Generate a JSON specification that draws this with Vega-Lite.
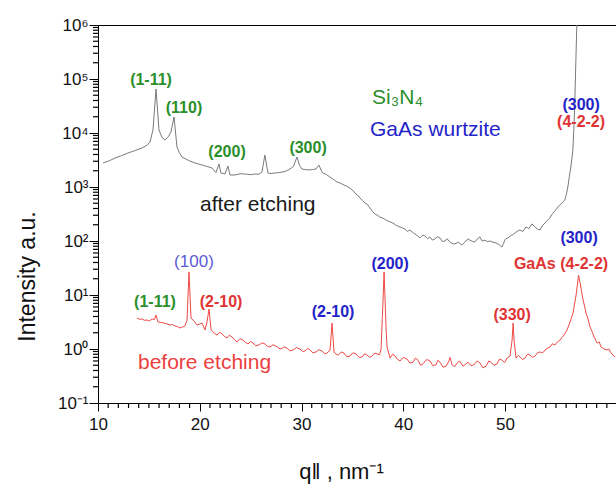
{
  "$schema": "https://vega.github.io/schema/vega-lite/v6.json",
  "width": 518,
  "height": 378,
  "autosize": "none",
  "padding": {"left": 98, "top": 25, "right": 0, "bottom": 86},
  "background": "white",
  "config": {
    "font": "Liberation Sans",
    "view": {"stroke": "black", "strokeWidth": 1}
  },
  "datasets": {
    "curves": [
      {"s":"after","q":10.49,"I":2780},{"s":"after","q":11.1,"I":3050},{"s":"after","q":11.67,"I":3440},{"s":"after","q":12.3,"I":3800},{"s":"after","q":12.95,"I":4260},{"s":"after","q":13.6,"I":4700},{"s":"after","q":14.32,"I":5280},{"s":"after","q":14.8,"I":5900},{"s":"after","q":15.11,"I":6810},{"s":"after","q":15.4,"I":11400},{"s":"after","q":15.7,"I":65300},{"s":"after","q":15.99,"I":11400},{"s":"after","q":16.3,"I":8200},{"s":"after","q":16.58,"I":7420},{"s":"after","q":16.9,"I":8500},{"s":"after","q":17.17,"I":10400},{"s":"after","q":17.47,"I":19800},{"s":"after","q":17.76,"I":5500},{"s":"after","q":18.0,"I":4300},{"s":"after","q":18.25,"I":3590},{"s":"after","q":18.9,"I":3100},{"s":"after","q":19.53,"I":2780},{"s":"after","q":20.4,"I":2500},{"s":"after","q":21.2,"I":2250},{"s":"after","q":21.59,"I":1850},{"s":"after","q":21.89,"I":2670},{"s":"after","q":22.08,"I":1815},{"s":"after","q":22.48,"I":1740},{"s":"after","q":22.77,"I":2450},{"s":"after","q":22.97,"I":1670},{"s":"after","q":23.46,"I":1670},{"s":"after","q":24.0,"I":1760},{"s":"after","q":24.44,"I":1740},{"s":"after","q":25.0,"I":1690},{"s":"after","q":25.42,"I":1740},{"s":"after","q":25.8,"I":1720},{"s":"after","q":26.11,"I":1900},{"s":"after","q":26.4,"I":3910},{"s":"after","q":26.7,"I":1815},{"s":"after","q":27.0,"I":1780},{"s":"after","q":27.39,"I":1815},{"s":"after","q":27.8,"I":1850},{"s":"after","q":28.17,"I":1900},{"s":"after","q":28.5,"I":1980},{"s":"after","q":28.86,"I":2150},{"s":"after","q":29.2,"I":2400},{"s":"after","q":29.55,"I":3590},{"s":"after","q":29.8,"I":2500},{"s":"after","q":30.04,"I":2150},{"s":"after","q":30.4,"I":2100},{"s":"after","q":30.83,"I":2070},{"s":"after","q":31.1,"I":2110},{"s":"after","q":31.41,"I":2150},{"s":"after","q":31.71,"I":2550},{"s":"after","q":32.0,"I":1900},{"s":"after","q":32.1,"I":1815},{"s":"after","q":32.45,"I":1700},{"s":"after","q":32.79,"I":1530},{"s":"after","q":33.1,"I":1400},{"s":"after","q":33.48,"I":1240},{"s":"after","q":33.8,"I":1180},{"s":"after","q":34.17,"I":1090},{"s":"after","q":34.45,"I":1030},{"s":"after","q":34.75,"I":957},{"s":"after","q":35.0,"I":880},{"s":"after","q":35.25,"I":774},{"s":"after","q":35.5,"I":710},{"s":"after","q":35.74,"I":626},{"s":"after","q":36.0,"I":560},{"s":"after","q":36.23,"I":506},{"s":"after","q":36.5,"I":470},{"s":"after","q":36.72,"I":409},{"s":"after","q":37.0,"I":350},{"s":"after","q":37.21,"I":316},{"s":"after","q":37.45,"I":300},{"s":"after","q":37.7,"I":278},{"s":"after","q":38.0,"I":265},{"s":"after","q":38.29,"I":245},{"s":"after","q":38.6,"I":230},{"s":"after","q":38.98,"I":215},{"s":"after","q":39.3,"I":195},{"s":"after","q":39.67,"I":182},{"s":"after","q":39.9,"I":175},{"s":"after","q":40.16,"I":167},{"s":"after","q":40.4,"I":150},{"s":"after","q":40.65,"I":160},{"s":"after","q":40.9,"I":145},{"s":"after","q":41.14,"I":135},{"s":"after","q":41.4,"I":125},{"s":"after","q":41.63,"I":114},{"s":"after","q":41.9,"I":128},{"s":"after","q":42.12,"I":124},{"s":"after","q":42.4,"I":110},{"s":"after","q":42.61,"I":119},{"s":"after","q":42.85,"I":104},{"s":"after","q":43.1,"I":109},{"s":"after","q":43.35,"I":120},{"s":"after","q":43.6,"I":114},{"s":"after","q":43.85,"I":98},{"s":"after","q":44.09,"I":100},{"s":"after","q":44.3,"I":110},{"s":"after","q":44.58,"I":96},{"s":"after","q":44.8,"I":90},{"s":"after","q":45.07,"I":88},{"s":"after","q":45.4,"I":95},{"s":"after","q":45.76,"I":84},{"s":"after","q":45.95,"I":92},{"s":"after","q":46.15,"I":100},{"s":"after","q":46.35,"I":110},{"s":"after","q":46.54,"I":104},{"s":"after","q":46.8,"I":98},{"s":"after","q":47.03,"I":96},{"s":"after","q":47.25,"I":108},{"s":"after","q":47.52,"I":119},{"s":"after","q":47.75,"I":100},{"s":"after","q":48.02,"I":104},{"s":"after","q":48.25,"I":97},{"s":"after","q":48.51,"I":100},{"s":"after","q":48.8,"I":95},{"s":"after","q":49.1,"I":92},{"s":"after","q":49.4,"I":86},{"s":"after","q":49.69,"I":77},{"s":"after","q":49.85,"I":90},{"s":"after","q":49.98,"I":104},{"s":"after","q":50.1,"I":110},{"s":"after","q":50.28,"I":114},{"s":"after","q":50.55,"I":125},{"s":"after","q":50.86,"I":135},{"s":"after","q":51.15,"I":150},{"s":"after","q":51.45,"I":160},{"s":"after","q":51.75,"I":150},{"s":"after","q":52.04,"I":182},{"s":"after","q":52.35,"I":170},{"s":"after","q":52.63,"I":207},{"s":"after","q":52.85,"I":190},{"s":"after","q":53.03,"I":176},{"s":"after","q":53.2,"I":165},{"s":"after","q":53.42,"I":160},{"s":"after","q":53.65,"I":190},{"s":"after","q":53.91,"I":215},{"s":"after","q":54.15,"I":240},{"s":"after","q":54.4,"I":267},{"s":"after","q":54.65,"I":320},{"s":"after","q":54.89,"I":360},{"s":"after","q":55.05,"I":390},{"s":"after","q":55.19,"I":426},{"s":"after","q":55.4,"I":470},{"s":"after","q":55.58,"I":506},{"s":"after","q":55.75,"I":540},{"s":"after","q":55.87,"I":574},{"s":"after","q":56.0,"I":700},{"s":"after","q":56.17,"I":1000},{"s":"after","q":56.3,"I":1500},{"s":"after","q":56.46,"I":2340},{"s":"after","q":56.56,"I":3300},{"s":"after","q":56.66,"I":4840},{"s":"after","q":56.76,"I":12000},{"s":"after","q":56.86,"I":40800},{"s":"after","q":56.95,"I":200000},{"s":"after","q":57.05,"I":1000000},
      {"s":"before","q":13.83,"I":3.75},{"s":"before","q":14.08,"I":3.55},{"s":"before","q":14.32,"I":3.6},{"s":"before","q":14.57,"I":3.4},{"s":"before","q":14.82,"I":3.44},{"s":"before","q":15.06,"I":3.3},{"s":"before","q":15.31,"I":3.6},{"s":"before","q":15.55,"I":3.5},{"s":"before","q":15.7,"I":4.26},{"s":"before","q":15.9,"I":3.16},{"s":"before","q":16.2,"I":3.1},{"s":"before","q":16.49,"I":3.03},{"s":"before","q":16.8,"I":2.9},{"s":"before","q":17.08,"I":2.78},{"s":"before","q":17.3,"I":2.85},{"s":"before","q":17.57,"I":2.67},{"s":"before","q":17.8,"I":2.6},{"s":"before","q":18.06,"I":2.45},{"s":"before","q":18.3,"I":2.55},{"s":"before","q":18.55,"I":2.67},{"s":"before","q":18.75,"I":3.44},{"s":"before","q":18.94,"I":26.7},{"s":"before","q":19.14,"I":3.75},{"s":"before","q":19.43,"I":3.3},{"s":"before","q":19.73,"I":2.78},{"s":"before","q":20.0,"I":2.9},{"s":"before","q":20.22,"I":3.03},{"s":"before","q":20.52,"I":2.25},{"s":"before","q":20.71,"I":3.16},{"s":"before","q":20.91,"I":5.5},{"s":"before","q":21.11,"I":2.25},{"s":"before","q":21.4,"I":1.98},{"s":"before","q":21.7,"I":1.82},{"s":"before","q":21.95,"I":2.05},{"s":"before","q":22.19,"I":1.9},{"s":"before","q":22.45,"I":1.7},{"s":"before","q":22.68,"I":1.6},{"s":"before","q":22.9,"I":1.8},{"s":"before","q":23.17,"I":1.67},{"s":"before","q":23.4,"I":1.5},{"s":"before","q":23.66,"I":1.35},{"s":"before","q":23.95,"I":1.55},{"s":"before","q":24.25,"I":1.47},{"s":"before","q":24.5,"I":1.32},{"s":"before","q":24.74,"I":1.24},{"s":"before","q":25.0,"I":1.38},{"s":"before","q":25.23,"I":1.29},{"s":"before","q":25.5,"I":1.15},{"s":"before","q":25.82,"I":1.19},{"s":"before","q":26.1,"I":1.3},{"s":"before","q":26.41,"I":1.24},{"s":"before","q":26.65,"I":1.12},{"s":"before","q":26.9,"I":1.09},{"s":"before","q":27.2,"I":1.2},{"s":"before","q":27.49,"I":1.13},{"s":"before","q":27.75,"I":1.04},{"s":"before","q":27.99,"I":1.0},{"s":"before","q":28.3,"I":1.1},{"s":"before","q":28.57,"I":1.04},{"s":"before","q":28.85,"I":0.92},{"s":"before","q":29.16,"I":0.96},{"s":"before","q":29.5,"I":1.06},{"s":"before","q":29.85,"I":1.0},{"s":"before","q":30.1,"I":0.9},{"s":"before","q":30.34,"I":0.92},{"s":"before","q":30.6,"I":1.02},{"s":"before","q":30.84,"I":0.96},{"s":"before","q":31.1,"I":0.85},{"s":"before","q":31.42,"I":0.88},{"s":"before","q":31.7,"I":0.97},{"s":"before","q":32.01,"I":0.92},{"s":"before","q":32.25,"I":0.82},{"s":"before","q":32.51,"I":0.84},{"s":"before","q":32.8,"I":0.96},{"s":"before","q":33.0,"I":3.03},{"s":"before","q":33.19,"I":0.88},{"s":"before","q":33.4,"I":0.8},{"s":"before","q":33.59,"I":0.77},{"s":"before","q":33.9,"I":0.88},{"s":"before","q":34.18,"I":0.84},{"s":"before","q":34.45,"I":0.72},{"s":"before","q":34.77,"I":0.74},{"s":"before","q":35.05,"I":0.85},{"s":"before","q":35.36,"I":0.81},{"s":"before","q":35.65,"I":0.7},{"s":"before","q":35.95,"I":0.71},{"s":"before","q":36.2,"I":0.82},{"s":"before","q":36.44,"I":0.77},{"s":"before","q":36.7,"I":0.7},{"s":"before","q":36.93,"I":0.74},{"s":"before","q":37.2,"I":0.84},{"s":"before","q":37.42,"I":0.81},{"s":"before","q":37.65,"I":0.78},{"s":"before","q":37.81,"I":0.96},{"s":"before","q":37.93,"I":3.5},{"s":"before","q":38.01,"I":8.07},{"s":"before","q":38.11,"I":26.7},{"s":"before","q":38.21,"I":8.07},{"s":"before","q":38.3,"I":2.5},{"s":"before","q":38.4,"I":1.09},{"s":"before","q":38.7,"I":0.68},{"s":"before","q":38.95,"I":0.8},{"s":"before","q":39.19,"I":0.74},{"s":"before","q":39.45,"I":0.64},{"s":"before","q":39.68,"I":0.6},{"s":"before","q":40.0,"I":0.7},{"s":"before","q":40.37,"I":0.65},{"s":"before","q":40.65,"I":0.55},{"s":"before","q":40.96,"I":0.57},{"s":"before","q":41.2,"I":0.68},{"s":"before","q":41.45,"I":0.62},{"s":"before","q":41.7,"I":0.5},{"s":"before","q":41.94,"I":0.53},{"s":"before","q":42.3,"I":0.64},{"s":"before","q":42.63,"I":0.6},{"s":"before","q":42.9,"I":0.49},{"s":"before","q":43.22,"I":0.51},{"s":"before","q":43.4,"I":0.62},{"s":"before","q":43.61,"I":0.57},{"s":"before","q":43.9,"I":0.46},{"s":"before","q":44.2,"I":0.48},{"s":"before","q":44.45,"I":0.58},{"s":"before","q":44.59,"I":0.7},{"s":"before","q":44.79,"I":0.51},{"s":"before","q":45.05,"I":0.47},{"s":"before","q":45.28,"I":0.55},{"s":"before","q":45.55,"I":0.6},{"s":"before","q":45.87,"I":0.48},{"s":"before","q":46.1,"I":0.52},{"s":"before","q":46.36,"I":0.57},{"s":"before","q":46.65,"I":0.49},{"s":"before","q":46.95,"I":0.51},{"s":"before","q":47.25,"I":0.6},{"s":"before","q":47.54,"I":0.55},{"s":"before","q":47.8,"I":0.45},{"s":"before","q":48.13,"I":0.48},{"s":"before","q":48.4,"I":0.6},{"s":"before","q":48.62,"I":0.57},{"s":"before","q":48.9,"I":0.5},{"s":"before","q":49.21,"I":0.53},{"s":"before","q":49.45,"I":0.65},{"s":"before","q":49.71,"I":0.62},{"s":"before","q":49.95,"I":0.56},{"s":"before","q":50.2,"I":0.68},{"s":"before","q":50.49,"I":0.74},{"s":"before","q":50.69,"I":1.47},{"s":"before","q":50.79,"I":3.03},{"s":"before","q":50.88,"I":1.47},{"s":"before","q":51.08,"I":0.68},{"s":"before","q":51.3,"I":0.76},{"s":"before","q":51.47,"I":0.71},{"s":"before","q":51.7,"I":0.64},{"s":"before","q":51.97,"I":0.68},{"s":"before","q":52.2,"I":0.8},{"s":"before","q":52.46,"I":0.77},{"s":"before","q":52.7,"I":0.7},{"s":"before","q":52.95,"I":0.74},{"s":"before","q":53.2,"I":0.86},{"s":"before","q":53.44,"I":0.88},{"s":"before","q":53.7,"I":0.85},{"s":"before","q":53.93,"I":0.96},{"s":"before","q":54.2,"I":1.05},{"s":"before","q":54.42,"I":1.09},{"s":"before","q":54.65,"I":1.25},{"s":"before","q":54.91,"I":1.19},{"s":"before","q":55.15,"I":1.35},{"s":"before","q":55.41,"I":1.47},{"s":"before","q":55.6,"I":1.65},{"s":"before","q":55.8,"I":1.82},{"s":"before","q":56.09,"I":2.25},{"s":"before","q":56.39,"I":3.16},{"s":"before","q":56.68,"I":4.64},{"s":"before","q":56.98,"I":10},{"s":"before","q":57.22,"I":23.4},{"s":"before","q":57.37,"I":16.7},{"s":"before","q":57.67,"I":8.07},{"s":"before","q":57.96,"I":4.64},{"s":"before","q":58.15,"I":3.6},{"s":"before","q":58.35,"I":2.55},{"s":"before","q":58.55,"I":2.1},{"s":"before","q":58.75,"I":1.67},{"s":"before","q":59.04,"I":1.29},{"s":"before","q":59.25,"I":1.35},{"s":"before","q":59.43,"I":1.09},{"s":"before","q":59.73,"I":1.0},{"s":"before","q":60.02,"I":0.96},{"s":"before","q":60.2,"I":1.0},{"s":"before","q":60.42,"I":0.84},{"s":"before","q":60.81,"I":0.71}
    ],
    "peaks": [
      {"q":15.21,"I":95700,"t":"(1-11)","g":"Si3N4"},
      {"q":18.45,"I":29000,"t":"(110)","g":"Si3N4"},
      {"q":22.68,"I":4450,"t":"(200)","g":"Si3N4"},
      {"q":30.64,"I":5270,"t":"(300)","g":"Si3N4"},
      {"q":57.47,"I":33000,"t":"(300)","g":"wurtzite"},
      {"q":57.47,"I":16000,"t":"(4-2-2)","g":"GaAs"},
      {"q":15.6,"I":7.41,"t":"(1-11)","g":"Si3N4"},
      {"q":22.09,"I":7.41,"t":"(2-10)","g":"GaAs"},
      {"q":33.1,"I":4.84,"t":"(2-10)","g":"wurtzite"},
      {"q":38.7,"I":37.5,"t":"(200)","g":"wurtzite"},
      {"q":50.69,"I":4.26,"t":"(330)","g":"GaAs"},
      {"q":57.27,"I":113.7,"t":"(300)","g":"wurtzite"},
      {"q":55.5,"I":37.5,"t":"GaAs (4-2-2)","g":"GaAs"}
    ],
    "weak": [
      {"q":19.43,"I":40.8,"t":"(100)","g":"wurtzite"}
    ],
    "captions": [
      {"q":36.93,"I":45000,"t":"Si₃N₄","g":"Si3N4"},
      {"q":36.73,"I":11370,"t":"GaAs wurtzite","g":"wurtzite"},
      {"q":20.02,"I":464,"t":"after etching","g":"after"},
      {"q":13.93,"I":0.551,"t":"before etching","g":"before"}
    ],
    "xminor": [
      {"q":11},{"q":12},{"q":13},{"q":14},{"q":15},{"q":16},{"q":17},{"q":18},{"q":19},
      {"q":21},{"q":22},{"q":23},{"q":24},{"q":25},{"q":26},{"q":27},{"q":28},{"q":29},
      {"q":31},{"q":32},{"q":33},{"q":34},{"q":35},{"q":36},{"q":37},{"q":38},{"q":39},
      {"q":41},{"q":42},{"q":43},{"q":44},{"q":45},{"q":46},{"q":47},{"q":48},{"q":49},
      {"q":51},{"q":52},{"q":53},{"q":54},{"q":55},{"q":56},{"q":57},{"q":58},{"q":59},{"q":60}
    ],
    "yminor": [
      {"I":0.2},{"I":0.3},{"I":0.4},{"I":0.5},{"I":0.6},{"I":0.7},{"I":0.8},{"I":0.9},
      {"I":2},{"I":3},{"I":4},{"I":5},{"I":6},{"I":7},{"I":8},{"I":9},
      {"I":20},{"I":30},{"I":40},{"I":50},{"I":60},{"I":70},{"I":80},{"I":90},
      {"I":200},{"I":300},{"I":400},{"I":500},{"I":600},{"I":700},{"I":800},{"I":900},
      {"I":2000},{"I":3000},{"I":4000},{"I":5000},{"I":6000},{"I":7000},{"I":8000},{"I":9000},
      {"I":20000},{"I":30000},{"I":40000},{"I":50000},{"I":60000},{"I":70000},{"I":80000},{"I":90000},
      {"I":200000},{"I":300000},{"I":400000},{"I":500000},{"I":600000},{"I":700000},{"I":800000},{"I":900000}
    ]
  },
  "layer": [
    {
      "data": {"name": "curves"},
      "mark": {"type": "line", "strokeWidth": 1, "clip": true},
      "encoding": {
        "x": {
          "field": "q", "type": "quantitative",
          "scale": {"domain": [10, 60.9], "nice": false, "zero": false},
          "axis": {
            "orient": "bottom",
            "values": [10, 20, 30, 40, 50],
            "tickSize": 8,
            "grid": false,
            "domainColor": "black",
            "tickColor": "black",
            "labelFontSize": 17,
            "labelColor": "#111",
            "labelPadding": 5,
            "labelOverlap": false,
            "labelFlush": false,
            "title": "q‖ , nm⁻¹",
            "titleFontSize": 22,
            "titleFontWeight": "normal",
            "titleColor": "#111",
            "titleX": 243,
            "titleY": 75,
            "titleAlign": "center",
            "titleBaseline": "alphabetic"
          }
        },
        "y": {
          "field": "I", "type": "quantitative",
          "scale": {"type": "log", "domain": [0.1, 1000000], "nice": false},
          "axis": {
            "orient": "left",
            "values": [0.1, 1, 10, 100, 1000, 10000, 100000, 1000000],
            "labelExpr": "'10' + ['⁻¹','⁰','¹','²','³','⁴','⁵','⁶'][round(log(datum.value)/LN10) + 1]",
            "tickSize": 9,
            "grid": false,
            "domainColor": "black",
            "tickColor": "black",
            "labelFontSize": 17,
            "labelColor": "#111",
            "labelPadding": 1,
            "labelOverlap": false,
            "labelFlush": false,
            "title": "Intensity a.u.",
            "titleFontSize": 23,
            "titleFontWeight": "normal",
            "titleColor": "#111",
            "titleAngle": -90,
            "titleX": -71,
            "titleY": 251,
            "titleAlign": "center",
            "titleBaseline": "middle"
          }
        },
        "stroke": {
          "field": "s", "type": "nominal",
          "scale": {"domain": ["after", "before"], "range": ["#7a7a7a", "#ee4a46"]},
          "legend": null
        }
      }
    },
    {
      "data": {"name": "xminor"},
      "mark": {"type": "rule", "color": "#000000", "strokeWidth": 1.2, "clip": false},
      "encoding": {
        "x": {"field": "q", "type": "quantitative"},
        "y": {"datum": 0.1, "type": "quantitative"},
        "y2": {"datum": 0.0808}
      }
    },
    {
      "data": {"name": "yminor"},
      "mark": {"type": "rule", "color": "#000000", "strokeWidth": 1.2, "clip": false},
      "encoding": {
        "y": {"field": "I", "type": "quantitative"},
        "x": {"datum": 10, "type": "quantitative"},
        "x2": {"datum": 9.509}
      }
    },
    {
      "data": {"name": "peaks"},
      "mark": {"type": "text", "fontSize": 16, "fontWeight": "bold", "align": "center", "baseline": "middle"},
      "encoding": {
        "x": {"field": "q", "type": "quantitative"},
        "y": {"field": "I", "type": "quantitative"},
        "text": {"field": "t"},
        "fill": {
          "field": "g", "type": "nominal",
          "scale": {"domain": ["Si3N4", "wurtzite", "GaAs", "after", "before"], "range": ["#2b8f2b", "#2424c8", "#e03434", "#1a1a1a", "#ec4040"]},
          "legend": null
        }
      }
    },
    {
      "data": {"name": "weak"},
      "mark": {"type": "text", "fontSize": 17, "fontWeight": "normal", "align": "center", "baseline": "middle", "opacity": 0.75},
      "encoding": {
        "x": {"field": "q", "type": "quantitative"},
        "y": {"field": "I", "type": "quantitative"},
        "text": {"field": "t"},
        "fill": {"field": "g", "type": "nominal", "legend": null}
      }
    },
    {
      "data": {"name": "captions"},
      "mark": {"type": "text", "fontSize": 21, "fontWeight": "normal", "align": "left", "baseline": "middle"},
      "encoding": {
        "x": {"field": "q", "type": "quantitative"},
        "y": {"field": "I", "type": "quantitative"},
        "text": {"field": "t"},
        "fill": {"field": "g", "type": "nominal", "legend": null}
      }
    }
  ]
}
